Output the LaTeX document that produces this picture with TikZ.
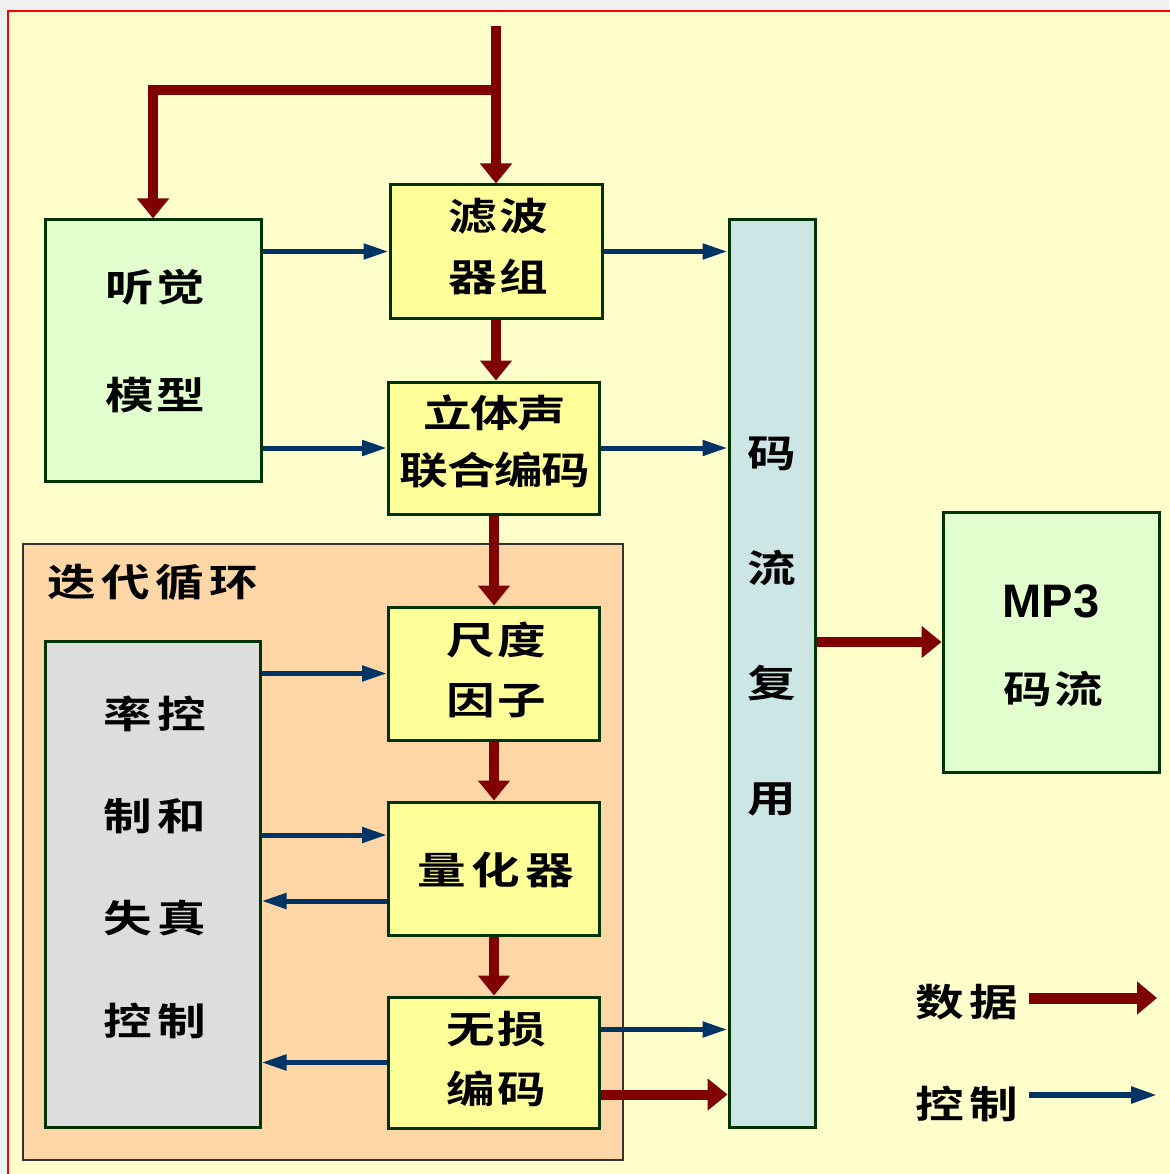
\documentclass[tikz,border=0pt]{standalone}
\usepackage{graphicx}
\usepackage{fontspec}
\setmainfont{Liberation Sans}
\newfontfamily\cjkn{Noto Sans CJK SC Bold}[LetterSpace=-3]
\newfontfamily\cjkm{Noto Sans CJK SC Bold}[LetterSpace=5]
\newfontfamily\cjkw{Noto Sans CJK SC Bold}[LetterSpace=11]
\usetikzlibrary{arrows.meta}
\definecolor{outbg}{HTML}{EEF0F2}
\definecolor{bgyellow}{HTML}{FFFFCC}
\definecolor{gfill}{HTML}{E2FFCE}
\definecolor{yfill}{HTML}{FFFF99}
\definecolor{bfill}{HTML}{CCE6E6}
\definecolor{pfill}{HTML}{FFD7A6}
\definecolor{grfill}{HTML}{DDDDDD}
\definecolor{boxline}{HTML}{003300}
\definecolor{datared}{HTML}{800000}
\definecolor{ctrlblue}{HTML}{003366}
\tikzset{
  blk/.style={draw=boxline, line width=3pt, inner sep=0pt},
  tn/.style={anchor=base, inner sep=0pt, font=\cjkn\fontsize{38}{40}\selectfont},
  tm/.style={anchor=base, inner sep=0pt, font=\cjkm\fontsize{38}{40}\selectfont},
  tw/.style={anchor=base, inner sep=0pt, font=\cjkw\fontsize{38}{40}\selectfont},
  datarrow/.style={draw=datared, line width=10pt, -{Triangle[length=20pt,width=31pt]}},
  ctrlarrow/.style={draw=ctrlblue, line width=5pt, -{Triangle[length=25pt,width=15pt]}}
}
\newcommand\sx[1]{\scalebox{1.28}[1]{#1}}
\begin{document}
\begin{tikzpicture}[x=1pt,y=-1pt]
\useasboundingbox (0,0) rectangle (1169,1174);
\fill[outbg] (0,0) rectangle (1169,1174);
\fill[bgyellow] (8,11) rectangle (1180,1180);
\draw[red, line width=2pt] (8,1180) -- (8,11) -- (1180,11);

% iterative loop region
\node[draw=black!80, line width=2pt, fill=pfill, minimum width=600pt, minimum height=616pt, inner sep=0pt] (loop) at (323,852) {};

% boxes
\node[blk, fill=gfill, minimum width=216pt, minimum height=261pt] (ting) at (153,350.5) {};
\node[blk, fill=yfill, minimum width=212pt, minimum height=133pt] (lvbo) at (496,251.5) {};
\node[blk, fill=yfill, minimum width=211pt, minimum height=132pt] (lt) at (494,448) {};
\node[blk, fill=bfill, minimum width=86pt, minimum height=907pt] (mux) at (772,673.5) {};
\node[blk, fill=gfill, minimum width=216pt, minimum height=260pt] (mp3) at (1051,642) {};
\node[blk, fill=grfill, minimum width=215pt, minimum height=486pt] (rate) at (152.5,884) {};
\node[blk, fill=yfill, minimum width=211pt, minimum height=133pt] (chidu) at (494,673.5) {};
\node[blk, fill=yfill, minimum width=211pt, minimum height=133pt] (lh) at (494,868.5) {};
\node[blk, fill=yfill, minimum width=211pt, minimum height=131pt] (ws) at (494,1062.5) {};

% texts
\node[tm] (t1) at (155,301) {\sx{听觉}};
\node[tm] (t2) at (155,409) {\sx{模型}};
\node[tm] (t3) at (498,230) {\sx{滤波}};
\node[tm] (t4) at (498,291) {\sx{器组}};
\node[tn] (t5) at (495,427) {\sx{立体声}};
\node[tn] (t6) at (495,484) {\sx{联合编码}};
\node[tn] (t7) at (772,467) {\sx{码}};
\node[tn] (t8) at (772,582) {\sx{流}};
\node[tn] (t9) at (772,697) {\sx{复}};
\node[tn] (t10) at (772,812) {\sx{用}};
\node[anchor=base, inner sep=0pt, font=\bfseries\fontsize{47}{50}\selectfont] (t11) at (1051,617) {MP3};
\node[tm] (t12) at (1053,703) {\sx{码流}};
\node[tw, anchor=base west] (t13) at (47,596) {\sx{迭代循环}};
\node[tm] (t14) at (496,654) {\sx{尺度}};
\node[tm] (t15) at (496,714) {\sx{因子}};
\node[tw] (t16) at (155,728) {\sx{率控}};
\node[tw] (t17) at (155,830) {\sx{制和}};
\node[tw] (t18) at (155,932) {\sx{失真}};
\node[tw] (t19) at (155,1035) {\sx{控制}};
\node[tw] (t20) at (496,884) {\sx{量化器}};
\node[tm] (t21) at (496,1043) {\sx{无损}};
\node[tm] (t22) at (496,1103) {\sx{编码}};
\node[tw] (t23) at (967,1016) {\sx{数据}};
\node[tw] (t24) at (967,1118) {\sx{控制}};

% data arrows
\coordinate (src) at (496,26);
\coordinate (br) at (496,90);
\draw[datarrow] (src) -- (lvbo.north);
\draw[datarrow] (br) -| (ting.north);
\draw[datarrow] (lvbo.south) -- (lt.north -| lvbo.south);
\draw[datarrow] (lt.south) -- (chidu.north);
\draw[datarrow] (chidu.south) -- (lh.north);
\draw[datarrow] (lh.south) -- (ws.north);
\draw[datarrow] (mux.east |- mp3.west) -- (mp3.west);
\coordinate (wsR) at ([yshift=-32pt]ws.east);
\draw[datarrow] (wsR) -- (wsR -| mux.west);

% control arrows
\draw[ctrlarrow] (ting.east |- lvbo.west) -- (lvbo.west);
\draw[ctrlarrow] (ting.east |- lt.west) -- (lt.west);
\draw[ctrlarrow] (lvbo.east) -- (lvbo.east -| mux.west);
\draw[ctrlarrow] (lt.east) -- (lt.east -| mux.west);
\draw[ctrlarrow] (rate.east |- chidu.west) -- (chidu.west);
\coordinate (lhA) at ([yshift=33.5pt]lh.west);
\coordinate (lhB) at ([yshift=-32.5pt]lh.west);
\draw[ctrlarrow] (lhA -| rate.east) -- (lhA);
\draw[ctrlarrow] (lhB) -- (lhB -| rate.east);
\draw[ctrlarrow] (ws.west) -- (ws.west -| rate.east);
\coordinate (wsU) at ([yshift=33pt]ws.east);
\draw[ctrlarrow] (wsU) -- (wsU -| mux.west);

% legend
\coordinate (lgA) at (1029,998);
\coordinate (lgB) at (1157,998);
\coordinate (lgC) at (1029,1095);
\coordinate (lgD) at (1157,1095);
\draw[draw=datared, line width=11pt, -{Triangle[length=20pt,width=32pt]}] (lgA) -- (lgB);
\draw[draw=ctrlblue, line width=5.5pt, -{Triangle[length=26pt,width=16pt]}] (lgC) -- (lgD);
\end{tikzpicture}
\end{document}
